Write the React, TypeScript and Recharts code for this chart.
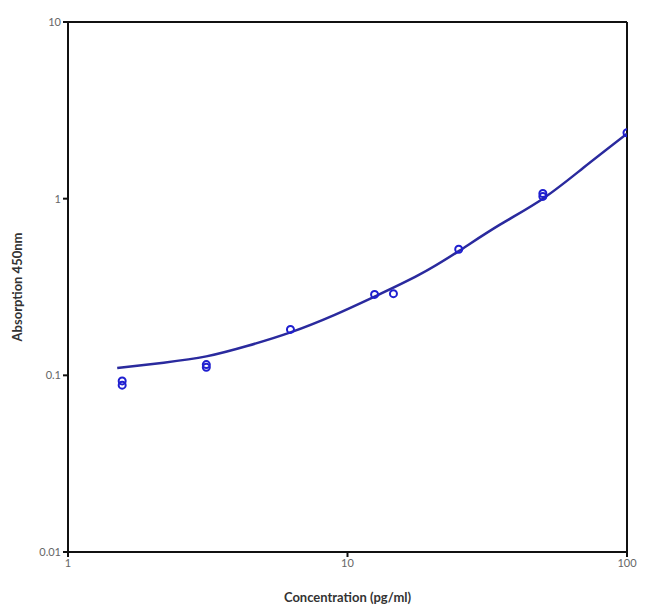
import React from 'react';
import {
  ComposedChart,
  Scatter,
  Line,
  XAxis,
  YAxis,
  ReferenceLine,
} from 'recharts';

// measured standards (concentration pg/ml, absorbance)
const pointX = [1.5625, 1.5625, 3.125, 3.125, 6.25, 12.5, 14.6, 25, 50, 50, 100];
const pointY = [0.093, 0.088, 0.115, 0.111, 0.182, 0.287, 0.29, 0.517, 1.03, 1.07, 2.36];

// fitted curve
const curveX = [1.5, 2.2, 3.125, 4.4, 6.25, 9, 12.5, 18, 25, 35, 50, 70, 100];
const curveY = [0.11, 0.118, 0.128, 0.147, 0.175, 0.22, 0.279, 0.37, 0.505, 0.71, 1.0, 1.5, 2.33];

const xTicks = [1, 10, 100];
const yTicks = [0.01, 0.1, 1, 10];

const points = pointX.map((x, i) => ({ x, y: pointY[i] }));
const curve = curveX.map((x, i) => ({ x, y: curveY[i] }));

const tickStyle = { fontSize: 11, fill: '#666', fontFamily: 'Lato, sans-serif' };
const titleStyle = { fontSize: 13, fontWeight: 700, fill: '#333', fontFamily: 'Lato, sans-serif' };

const App: React.FC = () => {
  return (
    <div style={{ width: 642, height: 603 }}>
      <ComposedChart
        width={642}
        height={603}
        margin={{ top: 14, right: 23, bottom: 9, left: 0 }}
      >
        <XAxis
          dataKey="x"
          type="number"
          scale="log"
          domain={[1, 100]}
          ticks={xTicks}
          allowDataOverflow
          height={50}
          stroke="#111"
          strokeWidth={2}
          tickSize={5}
          tick={tickStyle}
          tickFormatter={(v: number) => String(v)}
          label={{ value: 'Concentration (pg/ml)', position: 'insideBottom', offset: 0, style: titleStyle }}
        />
        <YAxis
          dataKey="y"
          type="number"
          scale="log"
          domain={[0.01, 10]}
          ticks={yTicks}
          allowDataOverflow
          width={60}
          stroke="#111"
          strokeWidth={2}
          tickSize={5}
          tick={tickStyle}
          tickFormatter={(v: number) => String(v)}
          label={{ value: 'Absorption 450nm', angle: -90, position: 'insideLeft', offset: 9, style: { ...titleStyle, textAnchor: 'middle' } }}
        />
        <ReferenceLine y={10} stroke="#111" strokeWidth={2} />
        <ReferenceLine x={100} stroke="#111" strokeWidth={2} />
        <Line
          data={curve}
          dataKey="y"
          type="natural"
          stroke="#2a2a9e"
          strokeWidth={2.5}
          dot={false}
          activeDot={false}
          isAnimationActive={false}
        />
        <Scatter
          data={points}
          dataKey="y"
          fill="none"
          isAnimationActive={false}
          shape={(props: any) => (
            <circle cx={props.cx} cy={props.cy} r={3.5} fill="none" stroke="#1f1fd0" strokeWidth={2} />
          )}
        />
      </ComposedChart>
    </div>
  );
};

export default App;
